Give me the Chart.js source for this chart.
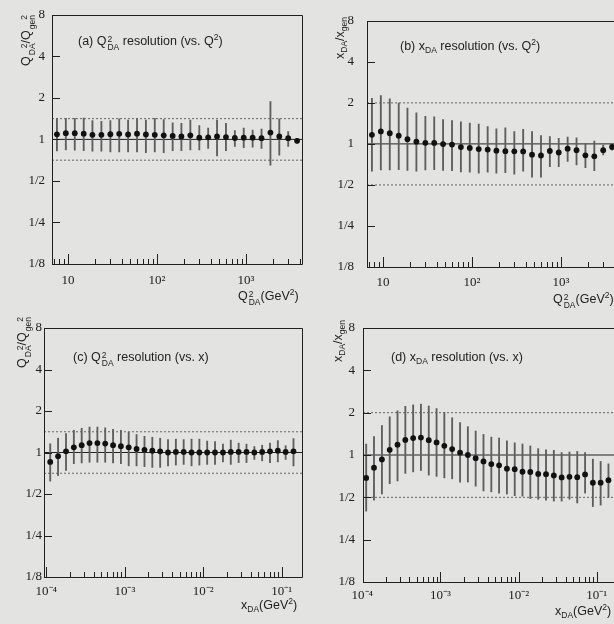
<!DOCTYPE html>
<html>
<head>
<meta charset="utf-8">
<script src="https://cdn.jsdelivr.net/npm/chart.js@4.4.1/dist/chart.umd.min.js"></script>
<style>
  html, body { margin: 0; padding: 0; }
  body {
    width: 614px; height: 624px; overflow: hidden; position: relative;
    background: #e3e3e1; color: #222;
    font-family: "Liberation Sans", Arial, sans-serif;
  }
  canvas { position: absolute; }
  .lbl { position: absolute; white-space: nowrap; font-size: 12.5px; line-height: 14px; }
  .ytitle {
    position: absolute; width: 120px; text-align: right; white-space: nowrap;
    font-size: 12.5px; line-height: 14px;
    transform-origin: 0 0; transform: rotate(-90deg);
  }
  /* stacked super/subscript, e.g. Q with 2 above DA */
  .st { display: inline-flex; flex-direction: column; font-size: 0.68em; line-height: 1; vertical-align: 0.4em; margin-left: 1px; }
  .sp { font-size: 0.68em; vertical-align: 0.55em; line-height: 0; }
  .sb { font-size: 0.68em; vertical-align: -0.35em; line-height: 0; }
</style>
</head>
<body>
<canvas id="pa" width="310" height="312" style="left:0;top:0"></canvas>
<canvas id="pb" width="320" height="312" style="left:310px;top:0"></canvas>
<canvas id="pc" width="310" height="312" style="left:0;top:312px"></canvas>
<canvas id="pd" width="320" height="312" style="left:310px;top:312px"></canvas>

<!-- panel titles and axis titles -->
<div class="lbl" style="left:78px;top:34px">(a) Q<span class="st"><span>2</span><span>DA</span></span> resolution (vs. Q<span class="sp">2</span>)</div>
<div class="lbl" style="left:400px;top:39px">(b) x<span class="sb">DA</span> resolution (vs. Q<span class="sp">2</span>)</div>
<div class="lbl" style="left:73px;top:350px">(c) Q<span class="st"><span>2</span><span>DA</span></span> resolution (vs. x)</div>
<div class="lbl" style="left:391px;top:350px">(d) x<span class="sb">DA</span> resolution (vs. x)</div>

<div class="ytitle" style="left:19px;top:135px">Q<span class="st"><span>2</span><span>DA</span></span>/Q<span class="st"><span>2</span><span>gen</span></span></div>
<div class="ytitle" style="left:333px;top:137px">x<span class="sb">DA</span>/x<span class="sb">gen</span></div>
<div class="ytitle" style="left:15px;top:437px">Q<span class="st"><span>2</span><span>DA</span></span>/Q<span class="st"><span>2</span><span>gen</span></span></div>
<div class="ytitle" style="left:331px;top:440px">x<span class="sb">DA</span>/x<span class="sb">gen</span></div>

<div class="lbl" style="left:238px;top:289px">Q<span class="st"><span>2</span><span>DA</span></span>(GeV<span class="sp">2</span>)</div>
<div class="lbl" style="left:553px;top:292px">Q<span class="st"><span>2</span><span>DA</span></span>(GeV<span class="sp">2</span>)</div>
<div class="lbl" style="left:241px;top:598px">x<span class="sb">DA</span>(GeV<span class="sp">2</span>)</div>
<div class="lbl" style="left:555px;top:604px">x<span class="sb">DA</span>(GeV<span class="sp">2</span>)</div>

<script>
// bin centres
const qBins = [7.50, 9.44, 11.9, 15.0, 18.8, 23.7, 29.9, 37.6, 47.3, 59.6, 75.0, 94.4, 119, 150,
  188, 237, 299, 376, 473, 596, 750, 944, 1189, 1496, 1884, 2371, 2985, 3758];
const xBins = [1.12e-4, 1.41e-4, 1.78e-4, 2.24e-4, 2.82e-4, 3.55e-4, 4.47e-4, 5.62e-4, 7.08e-4, 8.91e-4,
  1.12e-3, 1.41e-3, 1.78e-3, 2.24e-3, 2.82e-3, 3.55e-3, 4.47e-3, 5.62e-3, 7.08e-3, 8.91e-3,
  1.12e-2, 1.41e-2, 1.78e-2, 2.24e-2, 2.82e-2, 3.55e-2, 4.47e-2, 5.62e-2, 7.08e-2, 8.91e-2, 0.112, 0.141];

// (a) Q2 resolution vs Q2 : mean ratio and rms band
const aRatio = [1.088, 1.109, 1.11, 1.10, 1.079, 1.08, 1.09, 1.097, 1.087, 1.10, 1.085, 1.08, 1.07, 1.06,
  1.05, 1.07, 1.03, 1.035, 1.05, 1.04, 1.024, 1.03, 1.03, 1.02, 1.12, 1.05, 1.02, 0.976];
const aHigh = [1.42, 1.42, 1.42, 1.43, 1.37, 1.35, 1.37, 1.41, 1.38, 1.41, 1.38, 1.42, 1.39, 1.32,
  1.31, 1.38, 1.26, 1.21, 1.38, 1.31, 1.16, 1.21, 1.17, 1.19, 1.88, 1.41, 1.14, 1.02];
const aLow = [0.824, 0.84, 0.835, 0.83, 0.82, 0.82, 0.81, 0.81, 0.81, 0.81, 0.80, 0.81, 0.80, 0.83,
  0.83, 0.84, 0.84, 0.86, 0.76, 0.83, 0.89, 0.87, 0.88, 0.86, 0.65, 0.77, 0.89, 0.94];

// (b) x resolution vs Q2
const bRatio = [1.165, 1.235, 1.197, 1.149, 1.083, 1.039, 1.019, 1.016, 0.997, 0.988, 0.948, 0.935, 0.917, 0.909,
  0.892, 0.884, 0.882, 0.88, 0.834, 0.822, 0.887, 0.865, 0.922, 0.90, 0.825, 0.81, 0.90, 0.95];
const bHigh = [2.16, 2.26, 2.14, 1.99, 1.83, 1.69, 1.59, 1.58, 1.51, 1.48, 1.45, 1.42, 1.40, 1.34,
  1.29, 1.31, 1.23, 1.28, 1.23, 1.15, 1.13, 1.10, 1.12, 1.11, 1.00, 1.05, 0.98, 1.0];
const bLow = [0.63, 0.644, 0.645, 0.647, 0.64, 0.63, 0.645, 0.647, 0.64, 0.636, 0.624, 0.62, 0.61, 0.62,
  0.61, 0.615, 0.60, 0.63, 0.57, 0.57, 0.68, 0.68, 0.745, 0.70, 0.67, 0.635, 0.83, 0.90];

// (c) Q2 resolution vs x
const cRatio = [0.855, 0.94, 1.02, 1.09, 1.13, 1.17, 1.17, 1.16, 1.13, 1.11, 1.09, 1.06, 1.045, 1.03, 1.02, 1.0,
  1.01, 1.01, 1.0, 1.0, 1.0, 1.0, 1.0, 1.01, 1.01, 1.01, 1.0, 1.01, 1.02, 1.03, 1.01, 1.02];
const cHigh = [1.157, 1.27, 1.37, 1.45, 1.50, 1.53, 1.53, 1.51, 1.47, 1.45, 1.40, 1.35, 1.31, 1.29, 1.27, 1.24,
  1.25, 1.24, 1.25, 1.25, 1.21, 1.20, 1.15, 1.23, 1.17, 1.15, 1.105, 1.13, 1.17, 1.22, 1.12, 1.26];
const cLow = [0.62, 0.68, 0.74, 0.83, 0.84, 0.85, 0.85, 0.85, 0.84, 0.83, 0.80, 0.80, 0.79, 0.78, 0.78, 0.80,
  0.81, 0.82, 0.80, 0.81, 0.82, 0.82, 0.855, 0.82, 0.845, 0.845, 0.89, 0.87, 0.845, 0.855, 0.89, 0.80];

// (d) x resolution vs x
const dRatio = [0.687, 0.812, 0.93, 1.088, 1.184, 1.28, 1.32, 1.33, 1.274, 1.228, 1.163, 1.102, 1.039, 1.0, 0.949, 0.90,
  0.862, 0.845, 0.80, 0.793, 0.76, 0.757, 0.733, 0.73, 0.716, 0.693, 0.70, 0.695, 0.728, 0.635, 0.636, 0.662];
const dHigh = [1.196, 1.35, 1.62, 1.87, 2.06, 2.22, 2.27, 2.3, 2.23, 2.14, 2.0, 1.84, 1.70, 1.59, 1.48, 1.40,
  1.34, 1.32, 1.26, 1.22, 1.197, 1.16, 1.11, 1.09, 1.08, 1.04, 1.05, 1.06, 1.04, 0.935, 0.90, 0.865];
const dLow = [0.399, 0.477, 0.528, 0.625, 0.654, 0.74, 0.758, 0.776, 0.72, 0.705, 0.688, 0.677, 0.641, 0.642, 0.60, 0.555,
  0.547, 0.535, 0.528, 0.514, 0.51, 0.49, 0.484, 0.477, 0.47, 0.47, 0.485, 0.456, 0.536, 0.43, 0.44, 0.50];

// axis ticks
const ratioTicks = [0.125, 0.25, 0.5, 1, 2, 4, 8];
const ratioLabels = ['1/8', '1/4', '1/2', '1', '2', '4', '8'];
const qTicks = [10, 100, 1000];
const qLabels = ['10', '10²', '10³'];
const xTicks = [1e-4, 1e-3, 1e-2, 1e-1];
const xLabels = ['10⁻⁴', '10⁻³', '10⁻²', '10⁻¹'];

const INK = '#202020';

// frame, inward tick marks on left and bottom
const frameTicks = {
  id: 'frameTicks',
  afterDatasetsDraw(chart) {
    const {ctx, chartArea: a, scales: {x, y}} = chart;
    ctx.save();
    ctx.strokeStyle = INK;
    ctx.lineWidth = 1;
    ctx.beginPath();
    ctx.rect(Math.round(a.left) + 0.5, Math.round(a.top) + 0.5,
      Math.round(a.right - a.left), Math.round(a.bottom - a.top));
    ratioTicks.forEach(v => {
      const py = Math.round(y.getPixelForValue(v)) + 0.5;
      ctx.moveTo(a.left, py);
      ctx.lineTo(a.left + 8, py);
    });
    const d0 = Math.floor(Math.log10(x.min)), d1 = Math.ceil(Math.log10(x.max));
    for (let d = d0; d <= d1; d++) {
      for (let m = 1; m <= 9; m++) {
        const v = m * Math.pow(10, d);
        if (v < x.min || v > x.max) continue;
        const px = Math.round(x.getPixelForValue(v)) + 0.5;
        ctx.moveTo(px, a.bottom);
        ctx.lineTo(px, a.bottom - (m === 1 ? 10 : 5));
      }
    }
    ctx.stroke();
    ctx.restore();
  }
};

function makePanel(id, p) {
  const pts = p.bins.map((b, i) => ({x: b, y: p.ratio[i]}));
  const bars = p.bins.map((b, i) => ({x: b, y: [p.low[i], p.high[i]]}));
  const hline = v => [{x: p.xMin, y: v}, {x: p.xMax, y: v}];
  new Chart(document.getElementById(id), {
    type: 'scatter',
    data: {
      datasets: [
        {data: pts, pointRadius: 2.9, pointBackgroundColor: '#111', pointBorderWidth: 0, order: 0},
        {type: 'bar', data: bars, backgroundColor: '#5e5e5e', barThickness: 1.2, borderWidth: 0, order: 1},
        {type: 'line', data: hline(1), showLine: true, borderColor: INK, borderWidth: 1, pointRadius: 0, order: 2},
        {type: 'line', data: hline(p.band[0]), showLine: true, borderColor: '#666', borderWidth: 1, borderDash: [2, 2], pointRadius: 0, order: 3},
        {type: 'line', data: hline(p.band[1]), showLine: true, borderColor: '#666', borderWidth: 1, borderDash: [2, 2], pointRadius: 0, order: 3}
      ]
    },
    options: {
      responsive: false,
      animation: false,
      events: [],
      layout: {padding: {top: p.top, right: p.right, left: 0, bottom: 0}},
      plugins: {legend: {display: false}, tooltip: {enabled: false}},
      scales: {
        x: {
          type: 'logarithmic', min: p.xMin, max: p.xMax, offset: false,
          grid: {display: false, drawTicks: false}, border: {display: false},
          afterFit: s => { s.height = p.xHeight; },
          afterBuildTicks: s => { s.ticks = p.ticks.map(v => ({value: v})); },
          ticks: {
            autoSkip: false, maxRotation: 0, padding: p.xPad, color: INK,
            font: {family: '"Liberation Serif", "Times New Roman", serif', size: 13},
            callback: v => p.labels[p.ticks.indexOf(v)]
          }
        },
        y: {
          type: 'logarithmic', min: 0.125, max: 8,
          grid: {display: false, drawTicks: false}, border: {display: false},
          afterFit: s => { s.width = p.yWidth; },
          afterBuildTicks: s => { s.ticks = ratioTicks.map(v => ({value: v})); },
          ticks: {
            autoSkip: false, padding: p.yPad, color: INK,
            font: {family: '"Liberation Serif", "Times New Roman", serif', size: 13},
            callback: v => ratioLabels[ratioTicks.indexOf(v)]
          }
        }
      }
    },
    plugins: [frameTicks]
  });
}

makePanel('pa', {bins: qBins, ratio: aRatio, high: aHigh, low: aLow, band: [1.414, 0.707],
  xMin: 6.6, xMax: 4266, ticks: qTicks, labels: qLabels, top: 14, right: 8, yWidth: 52, xHeight: 48, yPad: 7, xPad: 9});
makePanel('pb', {bins: qBins, ratio: bRatio, high: bHigh, low: bLow, band: [2, 0.5],
  xMin: 6.6, xMax: 4266, ticks: qTicks, labels: qLabels, top: 19, right: 13, yWidth: 57, xHeight: 45, yPad: 13, xPad: 8});
makePanel('pc', {bins: xBins, ratio: cRatio, high: cHigh, low: cLow, band: [1.414, 0.707],
  xMin: 9.33e-5, xMax: 0.181, ticks: xTicks, labels: xLabels, top: 16, right: 8, yWidth: 44, xHeight: 47, yPad: 2, xPad: 7});
makePanel('pd', {bins: xBins, ratio: dRatio, high: dHigh, low: dLow, band: [2, 0.5],
  xMin: 1.02e-4, xMax: 0.204, ticks: xTicks, labels: xLabels, top: 16, right: 9, yWidth: 53, xHeight: 42, yPad: 8, xPad: 6});
</script>
</body>
</html>
